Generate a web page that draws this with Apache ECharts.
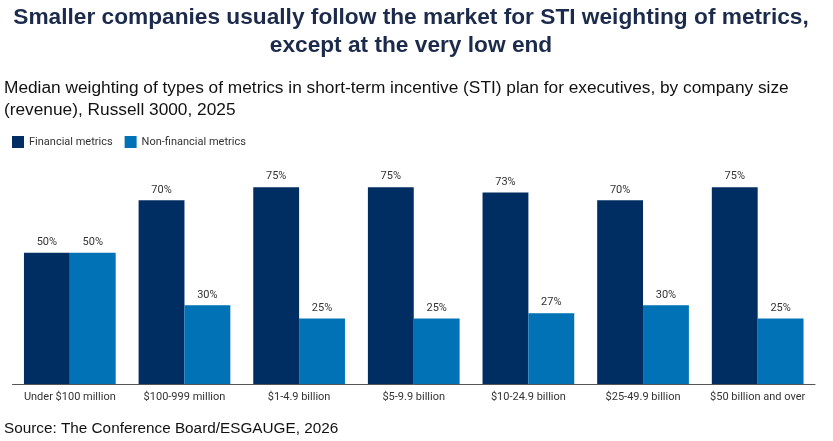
<!DOCTYPE html>
<html>
<head>
<meta charset="utf-8">
<script src="https://cdn.jsdelivr.net/npm/echarts@6/dist/echarts.min.js"></script>
<style>
html,body{margin:0;padding:0;background:#fff;}
#chart{width:833px;height:441px;}
</style>
</head>
<body>
<div id="chart"></div>
<script>
var categories = ['Under $100 million', '$100-999 million', '$1-4.9 billion', '$5-9.9 billion', '$10-24.9 billion', '$25-49.9 billion', '$50 billion and over'];
var financial = [50, 70, 75, 75, 73, 70, 75];
var nonFinancial = [50, 30, 25, 25, 27, 30, 25];
var seriesNames = ['Financial metrics', 'Non-financial metrics'];

var chart = echarts.init(document.getElementById('chart'), null, {renderer: 'canvas'});
var labelStyle = {
  show: true, position: 'top', distance: 5,
  formatter: '{c}%', color: '#333', fontSize: 11, fontFamily: 'Roboto'
};
chart.setOption({
  backgroundColor: '#fff',
  animation: false,
  title: [
    {
      text: 'Smaller companies usually follow the market for STI weighting of metrics,\nexcept at the very low end',
      left: 411, top: 4, padding: 0, textAlign: 'center',
      textStyle: {fontFamily: 'Liberation Sans', fontWeight: 'bold', fontSize: 22.7, lineHeight: 28, color: '#1c2b4b', align: 'center'}
    },
    {
      text: 'Median weighting of types of metrics in short-term incentive (STI) plan for executives, by company size\n(revenue), Russell 3000, 2025',
      left: 4, top: 77, padding: 0,
      textStyle: {fontFamily: 'Liberation Sans', fontWeight: 'normal', fontSize: 17.3, lineHeight: 22, color: '#111'}
    },
    {
      text: 'Source: The Conference Board/ESGAUGE, 2026',
      left: 4, top: 421, padding: 0,
      textStyle: {fontFamily: 'Liberation Sans', fontWeight: 'normal', fontSize: 15.3, color: '#111'}
    }
  ],
  legend: {
    left: 12, top: 136, padding: 0,
    itemWidth: 12, itemHeight: 12, itemGap: 12,
    icon: 'rect',
    textStyle: {fontFamily: 'Roboto', fontSize: 11, color: '#333'},
    data: seriesNames
  },
  grid: {left: 12.5, right: 18, top: 121.5, bottom: 57, containLabel: false},
  xAxis: {
    type: 'category', data: categories,
    axisLine: {lineStyle: {color: '#555', width: 1}},
    axisTick: {show: false},
    axisLabel: {fontFamily: 'Roboto', fontSize: 11, color: '#333', margin: 8, interval: 0}
  },
  yAxis: {
    type: 'value', min: 0, max: 100, show: false,
    splitLine: {show: false}
  },
  series: [
    {name: seriesNames[0], type: 'bar', data: financial, barWidth: '40%', barGap: '0%',
     itemStyle: {color: '#002d62'}, label: labelStyle},
    {name: seriesNames[1], type: 'bar', data: nonFinancial, barWidth: '40%',
     itemStyle: {color: '#0072b5'}, label: labelStyle}
  ]
});
</script>
</body>
</html>
